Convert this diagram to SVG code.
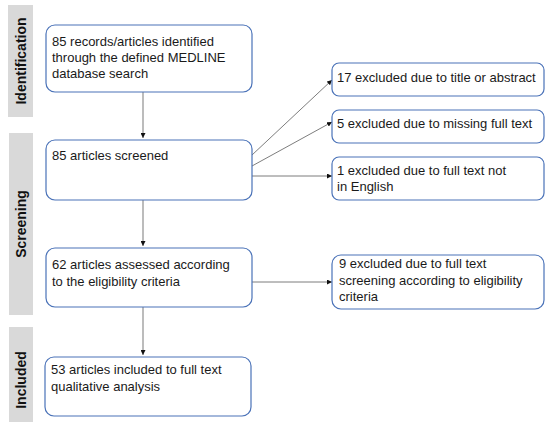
<svg xmlns="http://www.w3.org/2000/svg" width="550" height="424" viewBox="0 0 550 424">
<defs>
<marker id="ah" viewBox="0 0 6 6" refX="6" refY="3" markerWidth="5" markerHeight="5" markerUnits="userSpaceOnUse" orient="auto">
<path d="M0,0 L6,3 L0,6 Z" fill="#111"/>
</marker>
<style>
.bar{fill:#d9d9d9}
.lbl{font-family:"Liberation Sans",Arial,sans-serif;font-size:14px;font-weight:bold;fill:#111}
.box{fill:#fff;stroke:#4a72b8;stroke-width:1.2}
.t{font-family:"Liberation Sans",Arial,sans-serif;font-size:13px;fill:#1a1a1a}
.v{stroke:#a6a6a6;stroke-width:1.5;fill:none}
.d{stroke:#6e6e6e;stroke-width:0.9;fill:none}
</style>
</defs>
<rect width="550" height="424" fill="#fff"/>
<g id="phase-identification">
<rect class="bar" x="8" y="5" width="25" height="112"/>
<text class="lbl" transform="translate(26,61) rotate(-90)" text-anchor="middle">Identification</text>
</g>
<g id="phase-screening">
<rect class="bar" x="9" y="133" width="24" height="182"/>
<text class="lbl" transform="translate(26,224) rotate(-90)" text-anchor="middle">Screening</text>
</g>
<g id="phase-included">
<rect class="bar" x="9" y="327" width="24" height="95"/>
<text class="lbl" transform="translate(26,380) rotate(-90)" text-anchor="middle">Included</text>
</g>
<g id="connectors">
<line class="v" x1="143" y1="92" x2="143" y2="138" marker-end="url(#ah)"/>
<line class="v" x1="143" y1="200" x2="143" y2="246" marker-end="url(#ah)"/>
<line class="v" x1="143" y1="307" x2="143" y2="355" marker-end="url(#ah)"/>
<line class="d" x1="252" y1="155" x2="332" y2="80" marker-end="url(#ah)"/>
<line class="d" x1="252" y1="166" x2="332" y2="122" marker-end="url(#ah)"/>
<line class="d" x1="252" y1="176" x2="332" y2="176" marker-end="url(#ah)"/>
<line class="d" x1="252" y1="282" x2="332" y2="282" marker-end="url(#ah)"/>
</g>
<g id="n-identified">
<rect class="box" x="46" y="25" width="206" height="67" rx="9"/>
<text class="t" x="52" y="46">85 records/articles identified</text>
<text class="t" x="52" y="62">through the defined MEDLINE</text>
<text class="t" x="52" y="78">database search</text>
</g>
<g id="n-screened">
<rect class="box" x="46" y="140" width="206" height="60" rx="9"/>
<text class="t" x="52" y="160">85 articles screened</text>
</g>
<g id="n-assessed">
<rect class="box" x="46" y="248" width="206" height="59" rx="9"/>
<text class="t" x="52" y="269">62 articles assessed according</text>
<text class="t" x="52" y="286">to the eligibility criteria</text>
</g>
<g id="n-included">
<rect class="box" x="45" y="357" width="206" height="59" rx="9"/>
<text class="t" x="51" y="374">53 articles included to full text</text>
<text class="t" x="51" y="391">qualitative analysis</text>
</g>
<g id="n-ex-title">
<rect class="box" x="332" y="63" width="212" height="33" rx="7"/>
<text class="t" x="337" y="82">17 excluded due to title  or abstract</text>
</g>
<g id="n-ex-missing">
<rect class="box" x="332" y="110" width="212" height="33" rx="7"/>
<text class="t" x="337" y="128">5 excluded due to missing full text</text>
</g>
<g id="n-ex-english">
<rect class="box" x="332" y="157" width="212" height="43" rx="7"/>
<text class="t" x="337" y="175">1 excluded due to full text not</text>
<text class="t" x="337" y="191">in English</text>
</g>
<g id="n-ex-eligibility">
<rect class="box" x="332" y="255" width="212" height="54" rx="9"/>
<text class="t" x="339" y="268">9 excluded due to full text</text>
<text class="t" x="339" y="285">screening according to eligibility</text>
<text class="t" x="339" y="301">criteria</text>
</g>
</svg>
